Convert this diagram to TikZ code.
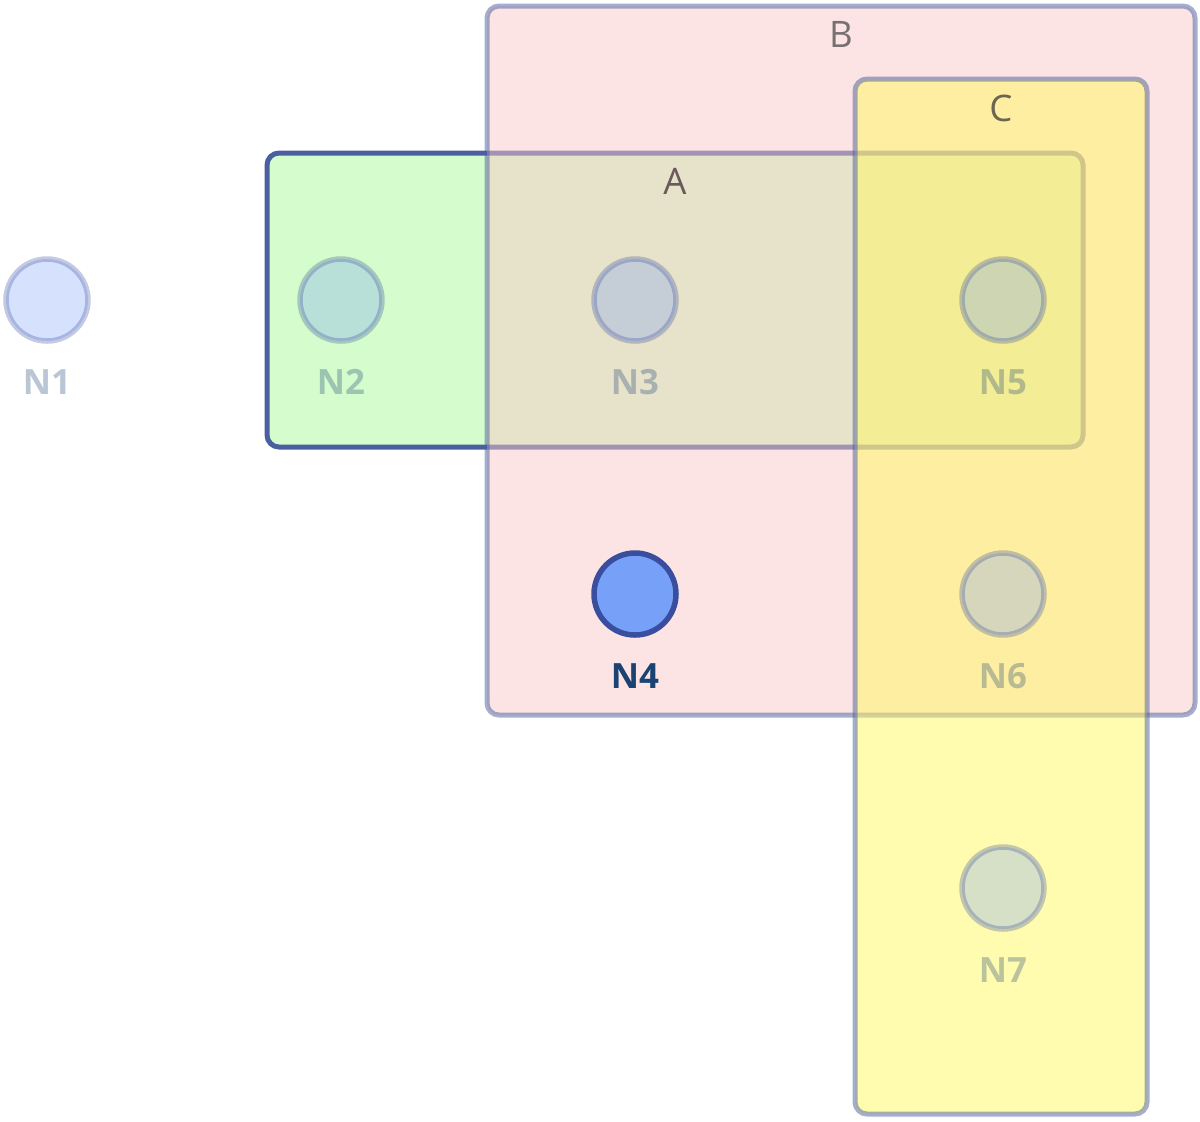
\documentclass[tikz,border=0pt]{standalone}
\usepackage{fontspec}
\setmainfont{Open Sans}
\usetikzlibrary{positioning}
\definecolor{clusterline}{HTML}{4A5EA0}
\definecolor{afill}{HTML}{D5FCCC}
\definecolor{bfill}{HTML}{F9C9C9}
\definecolor{cfill}{HTML}{FFF961}
\definecolor{nodefill}{HTML}{77A0F8}
\definecolor{nodeline}{HTML}{3A4EA0}
\definecolor{labelblue}{HTML}{1A4374}
\tikzset{
  cluster/.style={rounded corners=1.2mm, line width=0.5mm, draw=clusterline},
  faint/.style={fill opacity=0.5, draw opacity=0.5},
  vertex/.style={circle, minimum size=8.2mm, inner sep=0pt, line width=0.55mm, draw=nodeline, fill=nodefill},
  vlabel/.style={font=\bfseries\fontsize{9.9}{12}\selectfont, text=labelblue, inner sep=0pt},
  ghost/.style={opacity=0.3},
  clabel/.style={font=\fontsize{10.4}{12}\selectfont, inner sep=0pt}
}
\begin{document}
\begin{tikzpicture}[x=0.1mm,y=-0.1mm,label distance=2.5mm]
\useasboundingbox (0,0) rectangle (1200,1121);
% clusters
\draw[cluster,fill=afill] (267,153) rectangle (1083,447);
\draw[cluster,faint,fill=bfill] (487,6) rectangle (1195,715);
\draw[cluster,faint,fill=cfill] (855,79) rectangle (1147,1114);
\node[clabel,text={rgb,255:red,106;green,90;blue,92}] (labA) at (675,181.5) {A};
\node[clabel,text={rgb,255:red,120;green,112;blue,112}] (labB) at (841,34.5) {B};
\node[clabel,text={rgb,255:red,106;green,102;blue,80}] (labC) at (1001,108) {C};
% nodes
\foreach \n/\x/\y in {1/47/300,2/341/300,3/635/300,5/1003/300,6/1003/594,7/1003/888}
  \node[vertex,ghost,label={[vlabel,ghost]below:N\n}] (N\n) at (\x,\y) {};
\node[vertex,label={[vlabel]below:N4}] (N4) at (635,594) {};
\end{tikzpicture}
\end{document}
